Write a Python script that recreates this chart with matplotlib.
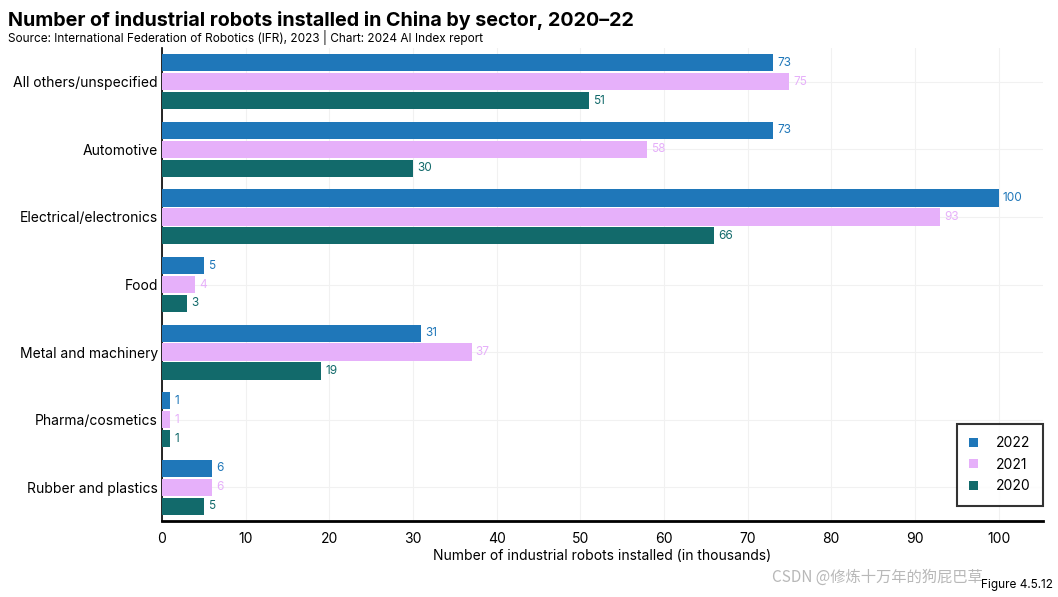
import matplotlib.pyplot as plt
import numpy as np

sectors = ["All others/unspecified", "Automotive", "Electrical/electronics", "Food",
           "Metal and machinery", "Pharma/cosmetics", "Rubber and plastics"]
years = ["2022", "2021", "2020"]
vals_2022 = [73, 73, 100, 5, 31, 1, 6]
vals_2021 = [75, 58, 93, 4, 37, 1, 6]
vals_2020 = [51, 30, 66, 3, 19, 1, 5]

colors = ["#1f77b9", "#e6b0fa", "#126a6b"]
series = [vals_2022, vals_2021, vals_2020]

plt.rcParams['font.family'] = ['Inter', 'DejaVu Sans']

fig = plt.figure(figsize=(10.58, 5.97), dpi=100)
ax = fig.add_axes([0.1531, 0.1273, 0.8327, 0.7923])

y = np.arange(len(sectors))
offset = 0.28
height = 0.255
for k, (vals, c, yr) in enumerate(zip(series, colors, years)):
    pos = y + (k - 1) * offset
    ax.barh(pos, vals, height=height, color=c, label=yr, zorder=3)
    for p, v in zip(pos, vals):
        ax.text(v + 0.5, p, str(v), va='center', ha='left', color=c, fontsize=8.5)

ax.set_yticks(y)
ax.set_yticklabels(sectors, fontsize=10)
ax.set_ylim(6.5, -0.5)
ax.set_xlim(0, 105.3)
ax.set_xticks(range(0, 101, 10))
ax.tick_params(axis='x', labelsize=10, length=0, pad=8)
ax.tick_params(axis='y', length=0, pad=3)
ax.grid(True, color='#f1f1f1', linewidth=0.8, zorder=0)
for s in ['top', 'right']:
    ax.spines[s].set_visible(False)
ax.spines['left'].set_linewidth(1.2)
ax.spines['bottom'].set_linewidth(2)
ax.set_xlabel("Number of industrial robots installed (in thousands)", fontsize=10, labelpad=2)

leg = ax.legend(loc='lower right', fontsize=10, frameon=True, fancybox=False,
                handlelength=0.6, handleheight=0.6, borderpad=0.9, labelspacing=0.55,
                handletextpad=1.3, borderaxespad=0, bbox_to_anchor=(1.0, 0.032))
leg.get_frame().set_edgecolor('black')
leg.get_frame().set_linewidth(1.5)

fig.text(0.008, 0.966, "Number of industrial robots installed in China by sector, 2020–22",
         fontsize=14.2, fontweight='bold', va='center', ha='left')
fig.text(0.008, 0.937, "Source: International Federation of Robotics (IFR), 2023 | Chart: 2024 AI Index report",
         fontsize=8.5, va='center', ha='left')
fig.text(0.995, 0.020, "Figure 4.5.12", fontsize=8.5, va='center', ha='right')
fig.text(0.73, 0.033, "CSDN @修炼十万年的狗屁巴草", fontsize=11, va='center', ha='left',
         color='#b8b8b8', family=['Noto Sans CJK SC', 'DejaVu Sans'])

fig.savefig("out.png", dpi=100)
